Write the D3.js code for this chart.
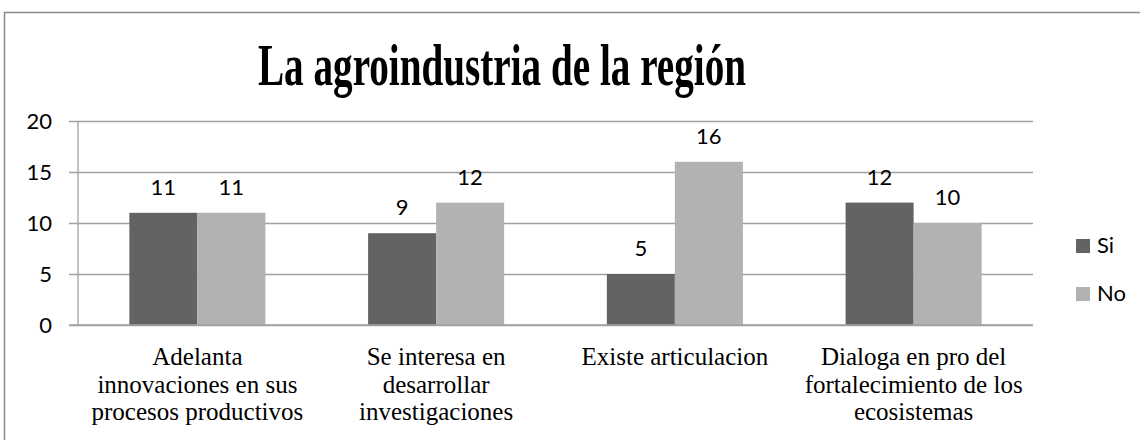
<!DOCTYPE html>
<html>
<head>
<meta charset="utf-8">
<script src="https://cdn.jsdelivr.net/npm/d3@7"></script>
<style>
    body { margin: 0; background: #fff; }
    svg { display: block; }
    .tick-label, .data-label, .legend-label { font-family: Lato, "Open Sans", sans-serif; font-size: 22px; fill: #000; }
    .x-label { font-family: "Liberation Serif", "Times New Roman", serif; font-size: 25px; fill: #000; }
    .title { font-family: "Liberation Serif", "Times New Roman", serif; font-weight: bold; font-size: 60px; fill: #000; }
</style>
</head>
<body>
<div id="chart"></div>
<script>
// Dati
const title = "La agroindustria de la región";
const categories = [
    "Adelanta innovaciones en sus procesos productivos",
    "Se interesa en desarrollar investigaciones",
    "Existe articulacion",
    "Dialoga en pro del fortalecimiento de los ecosistemas"
];
// righe delle etichette come le spezza Excel
const categoryLines = [
    ["Adelanta", "innovaciones en sus", "procesos productivos"],
    ["Se interesa en", "desarrollar", "investigaciones"],
    ["Existe articulacion"],
    ["Dialoga en pro del", "fortalecimiento de los", "ecosistemas"]
];
const seriesNames = ["Si", "No"];
const siValues = [11, 9, 5, 12];
const noValues = [11, 12, 16, 10];
const yTicks = [0, 5, 10, 15, 20];

const colors = { Si: "#636363", No: "#b2b2b2" };

const W = 1140, H = 440;
const margin = { top: 121, right: 107, bottom: 115, left: 78 };

const svg = d3.select("#chart")
    .append("svg")
    .attr("width", W)
    .attr("height", H);

// Bordo esterno (tagliato a destra e in basso)
svg.append("rect")
    .attr("x", 4.5)
    .attr("y", 12.5)
    .attr("width", 1300)
    .attr("height", 600)
    .attr("fill", "none")
    .attr("stroke", "#8a8a8a")
    .attr("stroke-width", 1.5);

// Titolo (stretto come nell'originale)
svg.append("text")
    .attr("class", "title")
    .attr("x", 258)
    .attr("y", 85)
    .attr("textLength", 488)
    .attr("lengthAdjust", "spacingAndGlyphs")
    .text(title);

const innerW = W - margin.left - margin.right;
const innerH = H - margin.top - margin.bottom;

const chart = svg.append("g")
    .attr("transform", `translate(${margin.left},${margin.top})`);

// Scale
const x0 = d3.scaleBand()
    .domain(categories)
    .range([0, innerW])
    .paddingInner(0)
    .paddingOuter(0);

const x1 = d3.scaleBand()
    .domain(seriesNames)
    .range([0, x0.bandwidth()])
    .paddingInner(0)
    .paddingOuter(0.755);

const y = d3.scaleLinear()
    .domain([0, 20])
    .range([innerH, 0]);

// Griglia + asse Y
const yAxis = chart.append("g")
    .attr("class", "y-axis")
    .call(d3.axisLeft(y).tickValues(yTicks).tickSize(-innerW).tickSizeOuter(0).tickPadding(26));

yAxis.select(".domain").remove();
yAxis.selectAll(".tick line")
    .attr("x1", -9)
    .attr("stroke", "#a0a0a0")
    .attr("stroke-width", 1.3);
yAxis.selectAll(".tick text")
    .attr("class", "tick-label")
    .attr("font-family", null)
    .attr("font-size", null)
    .attr("fill", null);

// Linea verticale dell'asse
chart.append("line")
    .attr("x1", 0).attr("x2", 0)
    .attr("y1", 0).attr("y2", innerH)
    .attr("stroke", "#a0a0a0")
    .attr("stroke-width", 1.3);

// Barre
const data = categories.map((c, i) => ({ cat: c, values: [
    { key: "Si", value: siValues[i] },
    { key: "No", value: noValues[i] }
] }));

const groups = chart.append("g")
    .selectAll("g")
    .data(data)
    .join("g")
    .attr("transform", d => `translate(${x0(d.cat)},0)`);

groups.selectAll("rect")
    .data(d => d.values)
    .join("rect")
    .attr("x", d => x1(d.key))
    .attr("y", d => y(d.value))
    .attr("width", x1.bandwidth())
    .attr("height", d => innerH - y(d.value))
    .attr("fill", d => colors[d.key]);

groups.selectAll(".data-label")
    .data(d => d.values)
    .join("text")
    .attr("class", "data-label")
    .attr("x", d => x1(d.key) + x1.bandwidth() / 2)
    .attr("y", d => y(d.value) - 18)
    .attr("text-anchor", "middle")
    .text(d => d.value);

// Linea di base
chart.append("line")
    .attr("x1", -9).attr("x2", innerW)
    .attr("y1", innerH).attr("y2", innerH)
    .attr("stroke", "#a0a0a0")
    .attr("stroke-width", 1.3);

// Etichette categorie
const xLabels = chart.append("g")
    .selectAll("text")
    .data(categories)
    .join("text")
    .attr("class", "x-label")
    .attr("text-anchor", "middle")
    .attr("x", d => x0(d) + x0.bandwidth() / 2)
    .attr("y", innerH + 40);

xLabels.selectAll("tspan")
    .data((d, i) => categoryLines[i])
    .join("tspan")
    .attr("x", function () { return d3.select(this.parentNode).attr("x"); })
    .attr("dy", (d, i) => i === 0 ? 0 : 27.5)
    .text(d => d);

// Legenda
const legend = svg.append("g")
    .attr("transform", "translate(1076,239)");

const items = legend.selectAll("g")
    .data(seriesNames)
    .join("g")
    .attr("transform", (d, i) => `translate(0,${i * 48})`);

items.append("rect")
    .attr("width", 14)
    .attr("height", 14)
    .attr("fill", d => colors[d]);

items.append("text")
    .attr("class", "legend-label")
    .attr("x", 21)
    .attr("y", 14)
    .text(d => d);
</script>
</body>
</html>
